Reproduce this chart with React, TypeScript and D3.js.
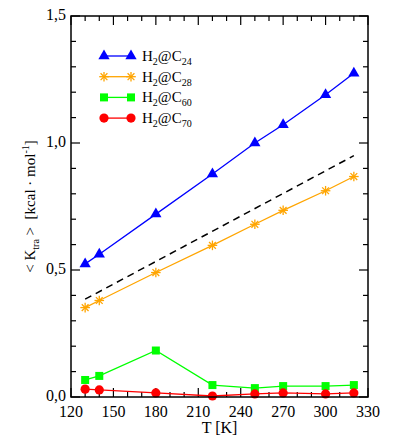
import { useEffect, useRef } from "react";
import * as d3 from "d3";

// temperatures (K)
const temps = [130, 140, 180, 220, 250, 270, 300, 320];
// < K_tra > in kcal/mol
const c24 = [0.524, 0.562, 0.72, 0.878, 1.0, 1.072, 1.19, 1.275];
const c28 = [0.352, 0.38, 0.49, 0.597, 0.68, 0.735, 0.812, 0.868];
const c60 = [0.067, 0.083, 0.183, 0.047, 0.035, 0.043, 0.043, 0.047];
const c70 = [0.031, 0.028, 0.016, 0.004, 0.012, 0.016, 0.012, 0.016];
// dashed reference line (two end points)
const refT = [130, 320];
const refK = [0.385, 0.95];

const xTicks = [120, 150, 180, 210, 240, 270, 300, 330];
const yTicks = [0, 0.5, 1.0, 1.5];
const yTickLabels = ["0,0", "0,5", "1,0", "1,5"];

const seriesNames = ["24", "28", "60", "70"];
const seriesColors = ["#0000ff", "#ffa500", "#00ff00", "#ff0000"];
const seriesMarkers = ["triangle", "asterisk", "square", "circle"];

const W = 395;
const H = 443;
const margin = { top: 16, right: 27, bottom: 46, left: 71 };
const FONT = "Liberation Serif, DejaVu Serif, serif";

function drawMarker(g, kind, color, x, y) {
    if (kind === "triangle") {
        g.append("path")
            .attr("d", d3.symbol(d3.symbolTriangle, 55)())
            .attr("transform", `translate(${x},${y})`)
            .attr("fill", color);
    } else if (kind === "square") {
        g.append("rect")
            .attr("x", x - 4)
            .attr("y", y - 4)
            .attr("width", 8)
            .attr("height", 8)
            .attr("fill", color);
    } else if (kind === "circle") {
        g.append("circle")
            .attr("cx", x)
            .attr("cy", y)
            .attr("r", 4.6)
            .attr("fill", color);
    } else {
        // asterisk: 4 strokes through the centre
        const r = 4.8;
        [0, 45, 90, 135].forEach((a) => {
            const dx = r * Math.cos((a * Math.PI) / 180);
            const dy = r * Math.sin((a * Math.PI) / 180);
            g.append("line")
                .attr("x1", x - dx)
                .attr("y1", y - dy)
                .attr("x2", x + dx)
                .attr("y2", y + dy)
                .attr("stroke", color)
                .attr("stroke-width", 1.3);
        });
    }
}

export default function App() {
    const svgRef = useRef(null);

    useEffect(() => {
        const svg = d3.select(svgRef.current);
        svg.selectAll("*").remove();

        const x0 = margin.left;
        const x1 = W - margin.right;
        const y0 = H - margin.bottom;
        const y1 = margin.top;

        const xScale = d3.scaleLinear().domain([120, 330]).range([x0, x1]);
        const yScale = d3.scaleLinear().domain([0, 1.5]).range([y0, y1]);

        // ####################### ticks (inward, all four sides) #######################
        const ticks = svg.append("g").attr("stroke", "black").attr("stroke-width", 1.2);
        d3.range(120, 331, 10).forEach((t) => {
            const len = t % 30 === 0 ? 9 : 5;
            const px = xScale(t);
            ticks.append("line").attr("x1", px).attr("x2", px).attr("y1", y0).attr("y2", y0 - len);
            ticks.append("line").attr("x1", px).attr("x2", px).attr("y1", y1).attr("y2", y1 + len);
        });
        d3.range(0, 16).forEach((i) => {
            const v = i / 10;
            const len = i % 5 === 0 ? 9 : 5;
            const py = yScale(v);
            ticks.append("line").attr("x1", x0).attr("x2", x0 + len).attr("y1", py).attr("y2", py);
            ticks.append("line").attr("x1", x1).attr("x2", x1 - len).attr("y1", py).attr("y2", py);
        });

        // ####################### tick labels #######################
        svg.append("g")
            .selectAll("text")
            .data(xTicks)
            .enter()
            .append("text")
            .attr("x", (d) => xScale(d))
            .attr("y", y0 + 20)
            .attr("text-anchor", "middle")
            .style("font-family", FONT)
            .style("font-size", "16px")
            .text((d) => d);

        svg.append("g")
            .selectAll("text")
            .data(yTicks)
            .enter()
            .append("text")
            .attr("x", x0 - 5)
            .attr("y", (d) => yScale(d) + 4)
            .attr("text-anchor", "end")
            .style("font-family", FONT)
            .style("font-size", "16px")
            .text((d, i) => yTickLabels[i]);

        // axis titles
        svg.append("text")
            .attr("x", (x0 + x1) / 2)
            .attr("y", y0 + 36)
            .attr("text-anchor", "middle")
            .style("font-family", FONT)
            .style("font-size", "16px")
            .text("T [K]");

        const yl = svg
            .append("text")
            .attr("transform", `translate(35,${(y0 + y1) / 2}) rotate(-90)`)
            .attr("text-anchor", "middle")
            .style("font-family", FONT)
            .style("font-size", "15px")
            .style("white-space", "pre");
        yl.append("tspan").text("< K");
        yl.append("tspan").style("font-size", "10px").attr("dy", 4).text("tra");
        yl.append("tspan").attr("dy", -4).text(" >  [kcal · mol");
        yl.append("tspan").style("font-size", "10px").attr("dy", -6).text("-1");
        yl.append("tspan").attr("dy", 6).text("]");

        // ####################### dashed reference line #######################
        const line = d3
            .line()
            .x((d) => xScale(d[0]))
            .y((d) => yScale(d[1]));
        svg.append("path")
            .attr("d", line(refT.map((t, i) => [t, refK[i]])))
            .attr("fill", "none")
            .attr("stroke", "black")
            .attr("stroke-width", 1.5)
            .attr("stroke-dasharray", "7,5");

        // ####################### series #######################
        const allSeries = [c24, c28, c60, c70];
        allSeries.forEach((vals, si) => {
            const color = seriesColors[si];
            const pts = temps.map((t, i) => [t, vals[i]]);
            svg.append("path")
                .attr("d", line(pts))
                .attr("fill", "none")
                .attr("stroke", color)
                .attr("stroke-width", 1.3);
            const mg = svg.append("g");
            pts.forEach((p) => drawMarker(mg, seriesMarkers[si], color, xScale(p[0]), yScale(p[1])));
        });

        // ####################### legend #######################
        const lg = svg.append("g");
        seriesNames.forEach((name, i) => {
            const ly = 56 + i * 20.7;
            const color = seriesColors[i];
            lg.append("line")
                .attr("x1", 104)
                .attr("x2", 131)
                .attr("y1", ly)
                .attr("y2", ly)
                .attr("stroke", color)
                .attr("stroke-width", 1.3);
            drawMarker(lg, seriesMarkers[i], color, 104, ly);
            drawMarker(lg, seriesMarkers[i], color, 131, ly);
            const t = lg
                .append("text")
                .attr("x", 142)
                .attr("y", ly + 5)
                .style("font-family", FONT)
                .style("font-size", "15px");
            t.append("tspan").text("H");
            t.append("tspan").style("font-size", "10px").attr("dy", 4).text("2");
            t.append("tspan").attr("dy", -4).text("@C");
            t.append("tspan").style("font-size", "10px").attr("dy", 4).text(name);
        });

        // ####################### frame #######################
        svg.append("rect")
            .attr("x", x0)
            .attr("y", y1)
            .attr("width", x1 - x0)
            .attr("height", y0 - y1)
            .attr("fill", "none")
            .attr("stroke", "black")
            .attr("stroke-width", 1.5);
    }, []);

    return (
        <svg
            ref={svgRef}
            width={W}
            height={H}
            style={{ position: "absolute", left: 0, top: 0, background: "white" }}
        ></svg>
    );
}
